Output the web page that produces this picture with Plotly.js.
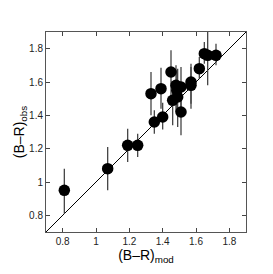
<!DOCTYPE html>
<html><head><meta charset="utf-8">
<script src="https://cdn.plot.ly/plotly-3.0.1.min.js"></script>
<style>html,body{margin:0;padding:0;background:#fff}#c{width:273px;height:274px}</style>
</head><body><div id="c"></div>
<script>
const bmrMod = [0.81,1.07,1.19,1.25,1.35,1.33,1.39,1.40,1.45,1.48,1.51,1.49,1.46,1.51,1.57,1.57,1.62,1.65,1.67,1.72,1.485];
const bmrObs = [0.95,1.08,1.22,1.22,1.36,1.53,1.56,1.39,1.66,1.58,1.57,1.51,1.49,1.42,1.60,1.58,1.68,1.77,1.76,1.76,1.55];
const errUp  = [0.13,0.13,0.10,0.07,0.07,0.13,0.125,0.085,0.13,0.12,0.12,0.17,0.11,0.10,0.11,0.11,0.07,0.07,0.14,0.07,0.12];
const errLow = [0.14,0.13,0.10,0.07,0.07,0.13,0.12,0.075,0.18,0.16,0.18,0.18,0.15,0.14,0.13,0.14,0.06,0.06,0.18,0.06,0.14];
const diagX = [0.7,1.9];
const diagY = [0.7,1.9];
const tickVals = [0.8,1.0,1.2,1.4,1.6,1.8];
const tickText = ['0.8','1','1.2','1.4','1.6','1.8'];

const font = 'Liberation Sans, Arial, sans-serif';
const traces = [
  {x: diagX, y: diagY, mode:'lines', line:{color:'#000', width:1}, hoverinfo:'skip'},
  {x: bmrMod, y: bmrObs, mode:'markers', type:'scatter',
   marker:{color:'#000', size:11.5},
   error_y:{type:'data', symmetric:false, array:errUp, arrayminus:errLow, color:'#444', thickness:1.3, width:0}}
];
const axisCommon = {
  range:[0.7,1.9], tickvals:tickVals, ticktext:tickText,
  ticks:'inside', ticklen:4, tickcolor:'#444', tickwidth:1,
  showline:true, linecolor:'#555', linewidth:1, mirror:'ticks',
  showgrid:false, zeroline:false,
  tickfont:{family:font, size:10, color:'#222'}
};
const layout = {
  width:273, height:274,
  margin:{l:46, r:26.5, t:32, b:42},
  showlegend:false,
  paper_bgcolor:'#fff', plot_bgcolor:'#fff',
  xaxis: Object.assign({}, axisCommon, {
    title:{text:'(B\u2013R)<sub>mod</sub>', font:{family:font, size:14, color:'#000'}, standoff:2}
  }),
  yaxis: Object.assign({}, axisCommon, {
    title:{text:'(B\u2013R)<sub>obs</sub>', font:{family:font, size:14, color:'#000'}, standoff:1}
  })
};
Plotly.newPlot('c', traces, layout, {displayModeBar:false, staticPlot:true});
</script>
</body></html>
